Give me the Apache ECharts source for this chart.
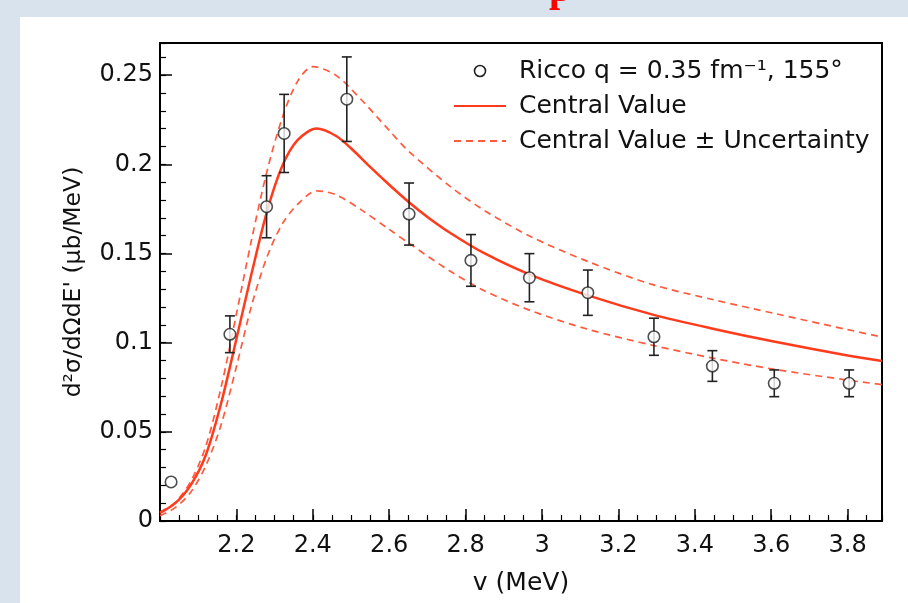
<!DOCTYPE html>
<html>
<head>
<meta charset="utf-8">
<script src="https://cdn.jsdelivr.net/npm/echarts@6/dist/echarts.min.js"></script>
<style>
html,body{margin:0;padding:0;background:#d9e3ee;}
#chart{width:908px;height:603px;}
</style>
</head>
<body>
<div id="chart"></div>
<script>
// ---- data ----
const dataName = 'Ricco q = 0.35 fm\u207B\u00B9, 155\u00B0';
const centralName = 'Central Value';
const bandName = 'Central Value \u00B1 Uncertainty';

const pointX   = [2.029, 2.183, 2.279, 2.325, 2.489, 2.652, 2.814, 2.967, 3.120, 3.293, 3.446, 3.608, 3.804];
const pointY   = [0.0219, 0.1047, 0.1762, 0.2173, 0.2365, 0.1721, 0.1461, 0.1364, 0.1280, 0.1033, 0.0869, 0.0772, 0.0772];
const pointErr = [0, 0.0103, 0.0174, 0.0219, 0.0237, 0.0174, 0.0145, 0.0135, 0.0127, 0.0104, 0.0086, 0.0075, 0.0075];

const centralX = [2.00, 2.04, 2.08, 2.12, 2.16, 2.20, 2.24, 2.28, 2.32, 2.36, 2.41, 2.46, 2.50, 2.55, 2.60, 2.65, 2.70, 2.76, 2.85, 2.97, 3.12, 3.29, 3.45, 3.61, 3.80, 3.89];
const centralY = [0.0045, 0.0100, 0.0200, 0.0370, 0.0660, 0.1020, 0.1390, 0.1735, 0.1990, 0.2135, 0.2200, 0.2160, 0.2090, 0.1985, 0.1885, 0.1790, 0.1705, 0.1615, 0.1500, 0.1380, 0.1265, 0.1157, 0.1077, 0.1005, 0.0928, 0.0897];

const upperX = [2.00, 2.04, 2.08, 2.12, 2.16, 2.20, 2.24, 2.28, 2.32, 2.36, 2.40, 2.46, 2.53, 2.60, 2.65, 2.76, 2.85, 2.97, 3.12, 3.29, 3.45, 3.61, 3.80, 3.89];
const upperY = [0.0050, 0.0105, 0.0220, 0.0420, 0.0750, 0.1160, 0.1580, 0.1960, 0.2260, 0.2465, 0.2547, 0.2500, 0.2355, 0.2190, 0.2075, 0.1875, 0.1740, 0.1595, 0.1455, 0.1325, 0.1240, 0.1163, 0.1073, 0.1032];

const lowerX = [2.00, 2.04, 2.08, 2.12, 2.16, 2.20, 2.24, 2.28, 2.32, 2.36, 2.41, 2.46, 2.53, 2.60, 2.65, 2.76, 2.85, 2.97, 3.12, 3.29, 3.45, 3.61, 3.80, 3.89];
const lowerY = [0.0030, 0.0075, 0.0160, 0.0310, 0.0540, 0.0865, 0.1210, 0.1480, 0.1665, 0.1775, 0.1851, 0.1830, 0.1740, 0.1635, 0.1560, 0.1400, 0.1290, 0.1180, 0.1075, 0.0985, 0.0912, 0.0850, 0.0790, 0.0765];

const xTickLabels = [2.2, 2.4, 2.6, 2.8, 3, 3.2, 3.4, 3.6, 3.8];
const yTickLabels = [0, 0.05, 0.1, 0.15, 0.2, 0.25];
const xRange = [2.0, 3.89];
const yRange = [0, 0.268];

// ---- build ----
const FONT = "'DejaVu Sans', 'Liberation Sans', sans-serif";
const zip = (a, b) => a.map((v, i) => [v, b[i]]);
const inList = (list, v) => list.some(t => Math.abs(t - v) < 1e-6);

const chart = echarts.init(document.getElementById('chart'), null, {renderer: 'canvas'});

const axisCommon = {
  type: 'value',
  splitLine: {show: false},
  axisLine: {show: true, onZero: false, lineStyle: {color: '#000', width: 2}},
};

const option = {
  backgroundColor: '#d9e3ee',
  animation: false,
  graphic: [
    {type: 'rect', left: 20, top: 17, shape: {width: 900, height: 600}, style: {fill: '#ffffff'}, z: -10, silent: true},
    {type: 'text', left: 549, top: -29, style: {text: 'p', fill: '#ff0000', font: 'bold 40px "Liberation Serif", serif'}, z: -5, silent: true}
  ],
  grid: {left: 160, right: 26, top: 43, bottom: 82, show: true, borderColor: '#000', borderWidth: 2, backgroundColor: 'transparent'},
  legend: {
    orient: 'vertical', left: 453, top: 53.5, padding: 0,
    itemWidth: 52, itemHeight: 11, itemGap: 0,
    textStyle: {fontFamily: FONT, fontSize: 25, lineHeight: 35, color: '#111', padding: [0, 0, 0, 8]},
    data: [
      {name: dataName, icon: 'circle', itemStyle: {color: '#ffffff', borderColor: '#222', borderWidth: 1.6, opacity: 1}},
      {name: centralName, itemStyle: {opacity: 0}},
      {name: bandName, itemStyle: {opacity: 0}}
    ]
  },
  xAxis: [
    Object.assign({}, axisCommon, {
      min: xRange[0], max: xRange[1], interval: 0.2, position: 'bottom',
      axisTick: {show: true, inside: true, length: 12, lineStyle: {color: '#000', width: 1.5}},
      axisLabel: {show: true, margin: 13, color: '#111', fontFamily: FONT, fontSize: 24,
        formatter: v => inList(xTickLabels, v) ? String(+v.toFixed(2)) : ''},
      name: 'v (MeV)', nameLocation: 'middle', nameGap: 50,
      nameTextStyle: {fontFamily: FONT, fontSize: 25, color: '#111'}
    }),
    Object.assign({}, axisCommon, {
      min: xRange[0], max: xRange[1], interval: 0.05, position: 'bottom',
      axisLine: {show: false},
      axisTick: {show: true, inside: true, length: 6, lineStyle: {color: '#000', width: 1.2}},
      axisLabel: {show: false}
    })
  ],
  yAxis: [
    Object.assign({}, axisCommon, {
      min: yRange[0], max: yRange[1], interval: 0.05, position: 'left',
      axisTick: {show: true, inside: true, length: 12, lineStyle: {color: '#000', width: 1.5}},
      axisLabel: {show: true, margin: 7, color: '#111', fontFamily: FONT, fontSize: 24,
        formatter: v => inList(yTickLabels, v) ? String(+v.toFixed(3)) : ''},
      name: "d\u00B2\u03C3/d\u03A9dE' (\u03BCb/MeV)", nameLocation: 'middle', nameGap: 74, nameRotate: 90,
      nameTextStyle: {fontFamily: FONT, fontSize: 23.5, color: '#111'}
    }),
    Object.assign({}, axisCommon, {
      min: yRange[0], max: yRange[1], interval: 0.01, position: 'left',
      axisLine: {show: false},
      axisTick: {show: true, inside: true, length: 6, lineStyle: {color: '#000', width: 1.2}},
      axisLabel: {show: false}
    })
  ],
  series: [
    {
      name: bandName, type: 'line', xAxisIndex: 0, yAxisIndex: 0,
      data: zip(upperX, upperY), smooth: 0.3, symbol: 'none', z: 3,
      lineStyle: {color: '#ff5a3d', width: 1.7, type: [7, 5]}, itemStyle: {color: '#ff5a3d'}
    },
    {
      name: bandName, type: 'line', xAxisIndex: 0, yAxisIndex: 0,
      data: zip(lowerX, lowerY), smooth: 0.3, symbol: 'none', z: 3,
      lineStyle: {color: '#ff5a3d', width: 1.7, type: [7, 5]}, itemStyle: {color: '#ff5a3d'}
    },
    {
      name: centralName, type: 'line', xAxisIndex: 0, yAxisIndex: 0,
      data: zip(centralX, centralY), smooth: 0.3, symbol: 'none', z: 4,
      lineStyle: {color: '#ff3b1c', width: 2.5}, itemStyle: {color: '#ff3b1c'}
    },
    {
      name: dataName + ' err', type: 'custom', xAxisIndex: 0, yAxisIndex: 0, z: 5,
      data: pointX.map((x, i) => [x, pointY[i], pointErr[i]]),
      renderItem: function (params, api) {
        const x = api.value(0), y = api.value(1), e = api.value(2);
        if (!e) return null;
        const top = api.coord([x, y + e]);
        const bot = api.coord([x, y - e]);
        const hw = 5;
        const st = {stroke: '#222', lineWidth: 1.6};
        return {type: 'group', children: [
          {type: 'line', shape: {x1: top[0], y1: top[1], x2: bot[0], y2: bot[1]}, style: st},
          {type: 'line', shape: {x1: top[0] - hw, y1: top[1], x2: top[0] + hw, y2: top[1]}, style: st},
          {type: 'line', shape: {x1: bot[0] - hw, y1: bot[1], x2: bot[0] + hw, y2: bot[1]}, style: st}
        ]};
      }
    },
    {
      name: dataName, type: 'scatter', xAxisIndex: 0, yAxisIndex: 0, z: 6,
      data: zip(pointX, pointY), symbol: 'circle', symbolSize: 11.5,
      itemStyle: {color: '#ffffff', borderColor: '#222', borderWidth: 1.6}
    }
  ]
};
chart.setOption(option);
</script>
</body>
</html>
